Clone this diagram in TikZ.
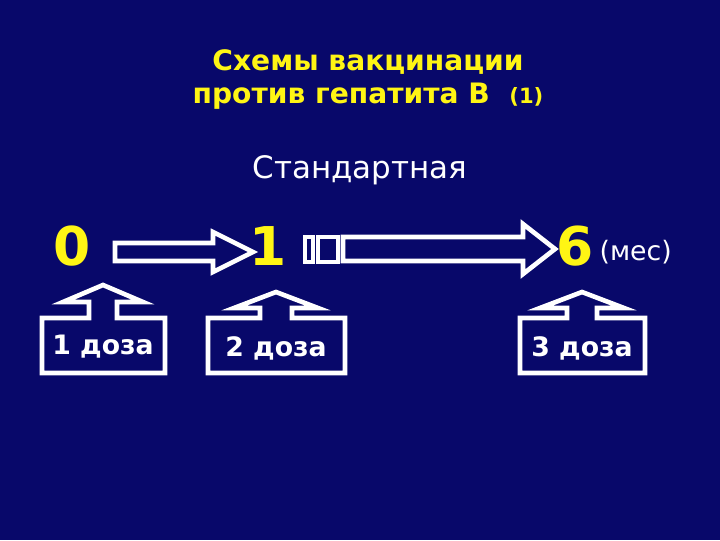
\documentclass[tikz,border=0pt]{standalone}
\usepackage{fontspec}
\setmainfont{DejaVu Sans}
\usetikzlibrary{positioning}
\definecolor{slnavy}{RGB}{8,8,106}
\definecolor{slyellow}{RGB}{255,245,20}

\begin{document}
\begin{tikzpicture}[x=0.025cm,y=-0.025cm,line width=3.3pt,line join=miter,
  title/.style={inner sep=0pt,text=slyellow,font=\fontsize{20}{24}\selectfont\bfseries},
  month/.style={inner sep=0pt,text=slyellow,font=\fontsize{38}{40}\selectfont\bfseries},
  dose/.style={inner sep=0pt,text=white,font=\fontsize{19}{22}\selectfont\bfseries},
  outline/.style={draw=white,fill=slnavy}]
  \fill[slnavy] (0,0) rectangle (720,540);
  % title
  \node[title] (t1) at (368,62) {Схемы вакцинации};
  \node[title] (t2) at (368,96) {против гепатита В\ \ {\fontsize{15}{18}\selectfont(1)}};
  \node[inner sep=0pt,text=white,font=\fontsize{22}{26}\selectfont] (std) at (360,170) {Стандартная};
  % months
  \node[month] (m0) at (72,246) {0};
  \node[month] (m1) at (268,246) {1};
  \node[month] (m6) at (575,246) {6};
  \node[inner sep=0pt,text=white,font=\fontsize{19}{22}\selectfont,right=1pt of m6,yshift=-4pt] (mes) {(мес)};
  % block arrows
  \coordinate (a1) at (115,252);
  \coordinate (a2) at (343,249);
  \draw[outline] (a1) ++(0,-9) -- ++(98,0) -- ++(0,-11) -- ++(40,20)
    -- ++(-40,20) -- ++(0,-11) -- ++(-98,0) -- cycle;
  \draw[outline] (305,237) rectangle (313,262);
  \draw[outline] (318,237) rectangle (338,262);
  \draw[outline] (a2) ++(0,-12) -- ++(180,0) -- ++(0,-13) -- ++(32,25)
    -- ++(-32,25) -- ++(0,-13) -- ++(-180,0) -- cycle;
  % doses
  \draw[outline] (42,318) -- (89,318) -- (89,302) -- (63,302) -- (103,285)
    -- (143,302) -- (117,302) -- (117,318) -- (165,318) -- (165,373)
    -- (42,373) -- cycle;
  \draw[outline] (208,318) -- (260,318) -- (260,308) -- (234,308) -- (276,292)
    -- (318,308) -- (292,308) -- (292,318) -- (345,318) -- (345,373)
    -- (208,373) -- cycle;
  \draw[outline] (520,318) -- (567,318) -- (567,308) -- (540,308) -- (582,292)
    -- (624,308) -- (597,308) -- (597,318) -- (645,318) -- (645,373)
    -- (520,373) -- cycle;
  \node[dose] (d1) at (103,347) {1 доза};
  \node[dose] (d2) at (276,348) {2 доза};
  \node[dose] (d3) at (582,348) {3 доза};
\end{tikzpicture}
\end{document}
